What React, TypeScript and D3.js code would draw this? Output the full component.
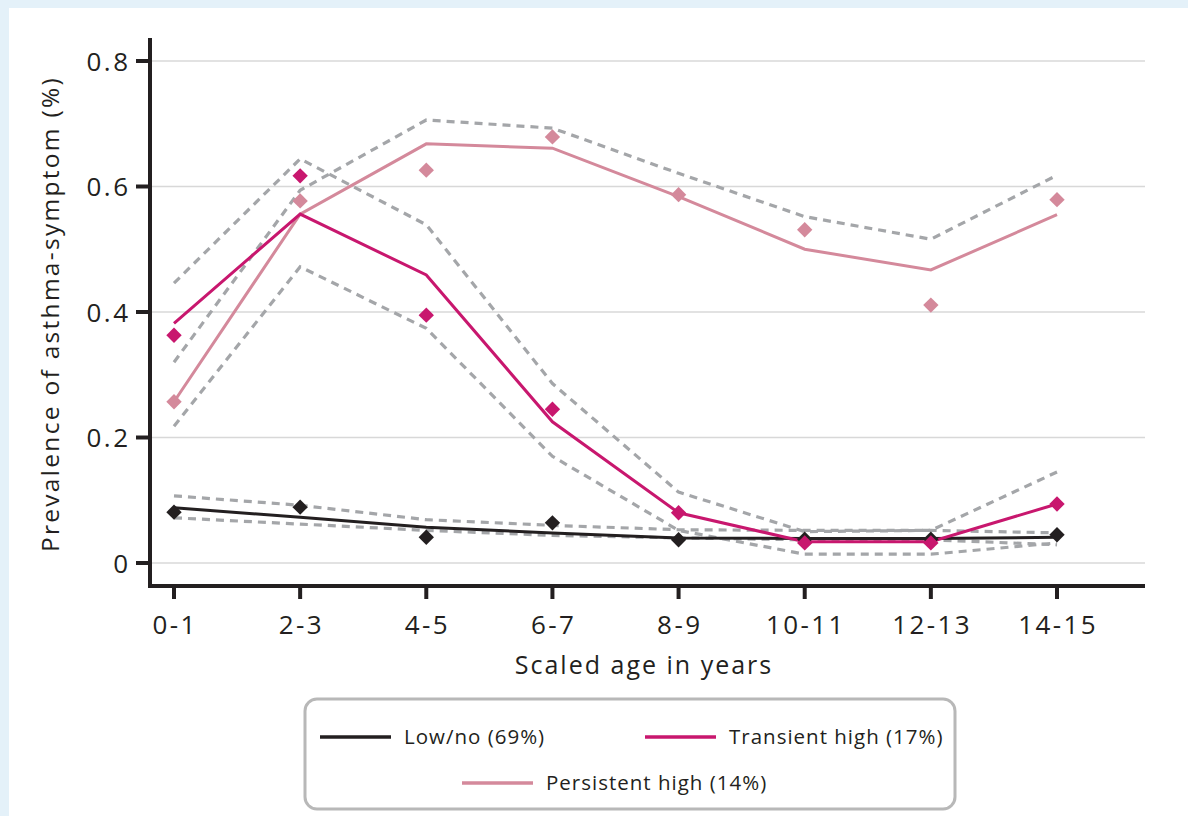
import React, { useEffect, useRef } from 'react';
import * as d3 from 'd3';

const categories = ['0-1', '2-3', '4-5', '6-7', '8-9', '10-11', '12-13', '14-15'];

// fitted trajectories
const lowFit = [0.088, 0.073, 0.057, 0.048, 0.040, 0.039, 0.039, 0.041];
const transientFit = [0.382, 0.556, 0.459, 0.225, 0.080, 0.034, 0.034, 0.094];
const persistentFit = [0.257, 0.556, 0.668, 0.661, 0.584, 0.500, 0.467, 0.555];

// observed prevalence (diamonds)
const lowObs = [0.081, 0.089, 0.041, 0.064, 0.037, 0.038, 0.038, 0.045];
const transientObs = [0.363, 0.617, 0.395, 0.245, 0.080, 0.032, 0.032, 0.094];
const persistentObs = [0.257, 0.577, 0.626, 0.679, 0.587, 0.531, 0.411, 0.579];

// confidence bands (grey dashed)
const bandA = [0.446, 0.644, 0.539, 0.286, 0.113, 0.050, 0.052, 0.145];
const bandB = [0.320, 0.594, 0.706, 0.693, 0.621, 0.552, 0.516, 0.618];
const bandC = [0.218, 0.472, 0.374, 0.170, 0.052, 0.014, 0.014, 0.032];
const lowUpper = [0.107, 0.092, 0.069, 0.060, 0.053, 0.052, 0.052, 0.048];
const lowLower = [0.072, 0.062, 0.052, 0.044, 0.040, 0.037, 0.037, 0.029];

const yTicks = [0, 0.2, 0.4, 0.6, 0.8];

const legendItems = [
  { label: 'Low/no (69%)', color: '#231f20', x: 320, y: 737 },
  { label: 'Transient high (17%)', color: '#c8176e', x: 645, y: 737 },
  { label: 'Persistent high (14%)', color: '#d4899b', x: 462, y: 783 },
];

const FONT = '"Open Sans", sans-serif';

export default function App() {
  const svgRef = useRef<SVGSVGElement | null>(null);

  useEffect(() => {
    document.body.style.margin = '0';
    const svg = d3.select(svgRef.current);
    svg.selectAll('*').remove();

    const W = 1188, H = 816;
    svg.append('rect').attr('width', W).attr('height', H).attr('fill', '#e4f1f9');
    svg.append('rect').attr('x', 9).attr('y', 8).attr('width', W - 9).attr('height', H - 8).attr('fill', '#fff');

    const x = d3.scalePoint<string>().domain(categories).range([174, 1057]);
    const y = d3.scaleLinear().domain([0, 0.8]).range([563, 61]);
    const axisX0 = 150, axisX1 = 1145, axisY = 586;

    // gridlines
    svg.append('g').selectAll('line').data(yTicks).join('line')
      .attr('x1', axisX0).attr('x2', axisX1)
      .attr('y1', d => y(d)).attr('y2', d => y(d))
      .attr('stroke', '#d8d8d8').attr('stroke-width', 1.5);

    const line = d3.line<number>()
      .x((d, i) => x(categories[i]) as number)
      .y(d => y(d));

    // dashed bands
    [bandA, bandB, bandC, lowUpper, lowLower].forEach(b => {
      svg.append('path').attr('d', line(b))
        .attr('fill', 'none').attr('stroke', '#a4a6a9')
        .attr('stroke-width', 3.2).attr('stroke-dasharray', '8,6');
    });

    const series = [
      { fit: lowFit, obs: lowObs, color: '#231f20' },
      { fit: persistentFit, obs: persistentObs, color: '#d4899b' },
      { fit: transientFit, obs: transientObs, color: '#c8176e' },
    ];

    series.forEach(s => {
      svg.append('path').attr('d', line(s.fit))
        .attr('fill', 'none').attr('stroke', s.color).attr('stroke-width', 3);
    });

    const diamond = d3.symbol().type(d3.symbolSquare).size(118);
    series.forEach(s => {
      svg.append('g').selectAll('path').data(s.obs).join('path')
        .attr('d', diamond)
        .attr('transform', (d, i) => `translate(${x(categories[i])},${y(d)}) rotate(45)`)
        .attr('fill', s.color);
    });

    // axes
    svg.append('line').attr('x1', axisX0).attr('x2', axisX0).attr('y1', 38).attr('y2', axisY + 2)
      .attr('stroke', '#231f20').attr('stroke-width', 4);
    svg.append('line').attr('x1', axisX0 - 2).attr('x2', axisX1).attr('y1', axisY).attr('y2', axisY)
      .attr('stroke', '#231f20').attr('stroke-width', 4);

    svg.append('g').selectAll('line').data(yTicks).join('line')
      .attr('x1', 136).attr('x2', axisX0)
      .attr('y1', d => y(d)).attr('y2', d => y(d))
      .attr('stroke', '#231f20').attr('stroke-width', 4);
    svg.append('g').selectAll('text').data(yTicks).join('text')
      .attr('x', 130.5).attr('y', d => y(d) + 9.5)
      .attr('text-anchor', 'end')
      .attr('font-family', FONT).attr('font-size', 26).attr('letter-spacing', 2.5).attr('fill', '#231f20')
      .text(d => (d === 0 ? '0' : d3.format('.1f')(d)));

    svg.append('g').selectAll('line').data(categories).join('line')
      .attr('x1', d => x(d) as number).attr('x2', d => x(d) as number)
      .attr('y1', axisY).attr('y2', axisY + 13)
      .attr('stroke', '#231f20').attr('stroke-width', 4);
    svg.append('g').selectAll('text').data(categories).join('text')
      .attr('x', d => (x(d) as number) + 1.2).attr('y', 634)
      .attr('text-anchor', 'middle')
      .attr('font-family', FONT).attr('font-size', 26).attr('letter-spacing', 2.4).attr('fill', '#231f20')
      .text(d => d);

    svg.append('text')
      .attr('x', 644).attr('y', 674)
      .attr('text-anchor', 'middle')
      .attr('font-family', FONT).attr('font-size', 25).attr('letter-spacing', 2).attr('fill', '#231f20')
      .text('Scaled age in years');

    svg.append('text')
      .attr('transform', 'translate(59,314) rotate(-90)')
      .attr('text-anchor', 'middle')
      .attr('font-family', FONT).attr('font-size', 24.5).attr('letter-spacing', 2.3).attr('fill', '#231f20')
      .text('Prevalence of asthma-symptom (%)');

    // legend
    svg.append('rect').attr('x', 305).attr('y', 699).attr('width', 650).attr('height', 110)
      .attr('rx', 12).attr('fill', '#fff').attr('stroke', '#b8b8b8').attr('stroke-width', 3);
    const lg = svg.append('g').selectAll('g').data(legendItems).join('g');
    lg.append('line')
      .attr('x1', d => d.x).attr('x2', d => d.x + 71)
      .attr('y1', d => d.y).attr('y2', d => d.y)
      .attr('stroke', d => d.color).attr('stroke-width', 3.5);
    lg.append('text')
      .attr('x', d => d.x + 84).attr('y', d => d.y + 7)
      .attr('font-family', FONT).attr('font-size', 20.5).attr('letter-spacing', 1).attr('fill', '#231f20')
      .text(d => d.label);
  }, []);

  return <svg ref={svgRef} width={1188} height={816} style={{ display: 'block' }} />;
}
